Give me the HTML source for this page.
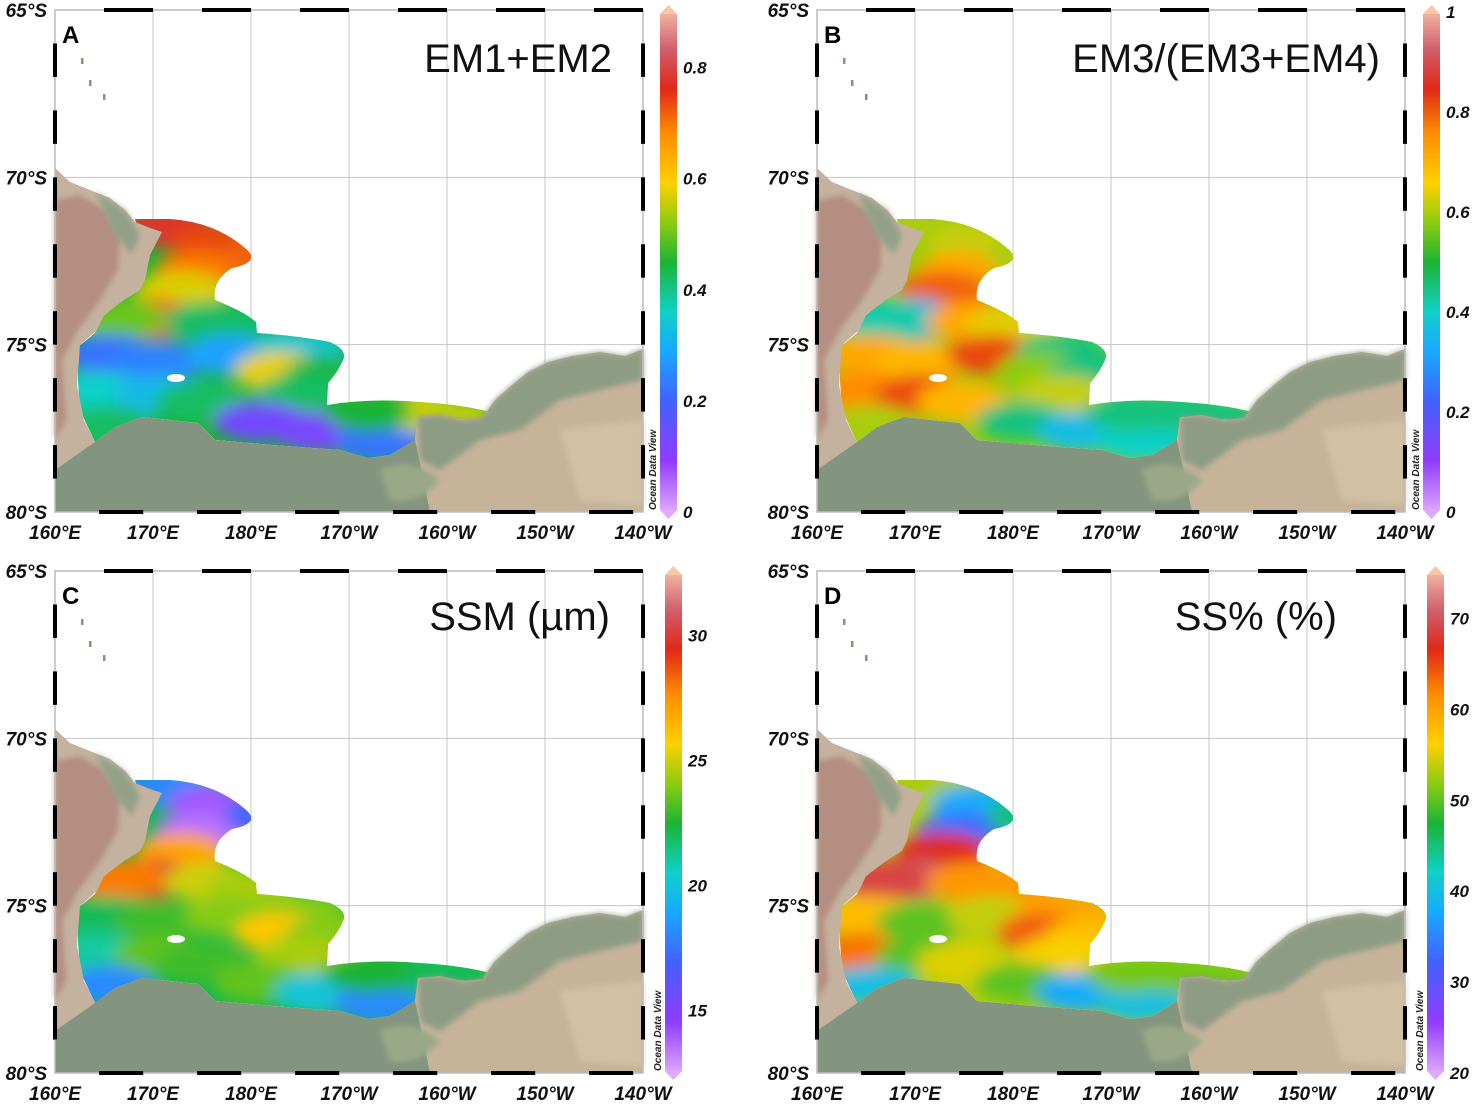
<!DOCTYPE html>
<html><head><meta charset="utf-8"><style>
html,body{margin:0;padding:0;background:#fff;width:1476px;height:1104px;overflow:hidden}
svg{display:block}
text{font-family:"Liberation Sans",Arial,sans-serif}
.ax{font-weight:bold;font-style:italic;font-size:19px;fill:#111}
.tk{font-weight:bold;font-style:italic;font-size:17px;fill:#111}
</style></head><body>
<svg id="fig" width="1476" height="1104" viewBox="0 0 1476 1104" xmlns="http://www.w3.org/2000/svg">
<defs>
<filter id="blur" x="-50%" y="-50%" width="200%" height="200%"><feGaussianBlur stdDeviation="8"/></filter>
<filter id="lblur"><feGaussianBlur stdDeviation="3"/></filter>
</defs>
</svg>
<script>
// ---- data ----
const panelLetters = ['A','B','C','D'];
const panelTitles = ['EM1+EM2','EM3/(EM3+EM4)','SSM (µm)','SS% (%)'];
const latTicks = [65,70,75,80];
const latTickLabels = ['65°S','70°S','75°S','80°S'];
const lonTicks = [160,170,180,190,200,210,220];
const lonTickLabels = ['160°E','170°E','180°E','170°W','160°W','150°W','140°W'];
const sampleLon = [171.7,176.3,174.8,172.8,169.7,166.6,175.8,179.9,165.6,170.7,177.9,185.0,183.0,188.1,164.6,170.7,174.8,185.0,180.9,187.0,193.2,197.2,192.1,165.6,200.5,182.0];
const sampleLat = [71.5,72.0,72.8,73.4,74.2,74.2,74.3,74.5,75.3,75.5,75.3,75.2,75.8,75.9,76.4,76.5,76.7,76.5,77.3,77.6,77.9,77.0,77.0,77.4,77.2,72.3];
const valuesA = [0.78,0.74,0.70,0.57,0.72,0.50,0.42,0.42,0.22,0.24,0.28,0.34,0.58,0.44,0.36,0.32,0.42,0.42,0.13,0.12,0.22,0.58,0.45,0.42,0.55,0.72];
const valuesB = [0.60,0.62,0.72,0.80,0.34,0.42,0.72,0.64,0.72,0.70,0.82,0.45,0.58,0.45,0.76,0.82,0.70,0.62,0.45,0.36,0.40,0.45,0.45,0.60,0.45,0.60];
const valuesC = [18,14,13.5,27,30,28,25,24.5,22,23,24,24,26,24,21,23.5,23,24.5,23.5,20,18,22,22.5,18,22,17];
const valuesD = [53,38,33,67,71,69,61,61,58,50,54,60,64,58,63,50,55,56,50,38,40,51,51,40,51,45];
const seriesValues = [valuesA,valuesB,valuesC,valuesD];
const cbMin = [0,0,12.5,20];
const cbMax = [0.9,1,32.5,75];
const cbTicksA = [0,0.2,0.4,0.6,0.8];
const cbTicksB = [0,0.2,0.4,0.6,0.8,1];
const cbTicksC = [15,20,25,30];
const cbTicksD = [20,30,40,50,60,70];
const cbTicks = [cbTicksA,cbTicksB,cbTicksC,cbTicksD];

// ---- layout ----
const NS='http://www.w3.org/2000/svg';
const svg=document.getElementById('fig');
const offsets=[[0,0],[762,0],[0,561],[762,561]];
const cbX=[660,661,665,665];
const X0=55,X1=643,Y0=10,Y1=512;
const xs=lon=>X0+(lon-160)*(X1-X0)/60;
const ys=lat=>Y0+(lat-65)*(Y1-Y0)/15;
const stops=[[0,'#dca4ff'],[0.1,'#8f3cff'],[0.22,'#4262ff'],[0.32,'#18a8ff'],[0.4,'#10d0c8'],[0.5,'#1cb434'],[0.58,'#8ccc10'],[0.66,'#ffd000'],[0.76,'#ff8c00'],[0.85,'#e02818'],[0.93,'#d0606e'],[1,'#f0b0a0']];
function hex(h){return [1,3,5].map(i=>parseInt(h.substr(i,2),16));}
function cmap(t){t=Math.max(0,Math.min(1,t));for(let i=1;i<stops.length;i++){if(t<=stops[i][0]){const a=stops[i-1],b=stops[i];const f=(t-a[0])/(b[0]-a[0]);const ca=hex(a[1]),cb=hex(b[1]);return 'rgb('+ca.map((c,k)=>Math.round(c+(cb[k]-c)*f)).join(',')+')';}}return stops[stops.length-1][1];}
function el(tag,attrs,parent){const e=document.createElementNS(NS,tag);for(const k in attrs)e.setAttribute(k,attrs[k]);(parent||svg).appendChild(e);return e;}

const oceanPath="M135,219 L170,219 Q215,222 245,248 Q262,262 232,268 Q212,280 215,300 Q245,312 256,322 L257,333 Q300,336 330,342 Q348,350 343,360 Q338,372 328,383 L327,405 Q370,398 420,402 Q470,405 500,415 L470,420 L418,417 L415,440 L390,455 L368,458 L340,450 L272,445 L215,440 L198,423 L142,417 L115,427 L95,442 L80,410 L78,380 L78,347 L95,333 L102,317 L122,300 L138,280 L142,245 Z";
const victoria="M55,168 L70,182 L90,190 L110,198 L125,210 L135,222 L150,228 L162,232 L150,255 L145,280 L140,290 L124,300 L104,315 L97,330 L80,345 L77,385 L84,420 L95,442 L100,470 L70,480 L55,480 Z";
const shelf="M55,470 L95,442 L115,427 L142,417 L198,423 L215,440 L272,445 L340,450 L368,458 L390,455 L415,440 L430,512 L55,512 Z";
const byrd="M415,440 L418,417 L440,415 L462,420 L482,418 L495,400 L512,385 L528,372 L548,362 L572,356 L600,352 L625,356 L643,349 L643,512 L420,512 Z";

offsets.forEach((off,p)=>{
  const g=el('g',{transform:'translate('+off[0]+','+off[1]+')'});
  
  
  const cid='clip'+p;
  const cp=el('clipPath',{id:cid},g);el('path',{d:oceanPath},cp);
  lonTicks.forEach(l=>{const ln=el('line',{x1:xs(l),x2:xs(l),y1:Y0,y2:Y1,stroke:'#c4c4c4','stroke-width':1},g);});
  [70,75].forEach(l=>{const ln=el('line',{x1:X0,x2:X1,y1:ys(l),y2:ys(l),stroke:'#c4c4c4','stroke-width':1},g);});
  const vals=seriesValues[p];
  const norm=v=>(v-cbMin[p])/(cbMax[p]-cbMin[p]);
  const fg=el('g',{'clip-path':'url(#'+cid+')'},g);
  
  
  const mean=vals.reduce((a,b)=>a+b,0)/vals.length;
  el('path',{d:oceanPath,fill:cmap(norm(mean))},fg);
  const bg=el('g',{filter:'url(#blur)'},fg);
  vals.forEach((v,i)=>{
    const e=el('ellipse',{cx:xs(sampleLon[i]),cy:ys(sampleLat[i]),rx:46,ry:20,fill:cmap(norm(v))},bg);
    
    
  });
  el('ellipse',{cx:176,cy:378,rx:9,ry:4,fill:'#fff'},fg);
  const lg=el('g',{},g);
  
  
  el('path',{d:victoria,fill:'#c4b29e'},lg);
  el('path',{d:'M55,200 L80,195 L105,210 L120,235 L118,270 L100,300 L78,330 L62,360 L66,420 L55,440 Z',fill:'#b48e80',filter:'url(#lblur)'},lg);
  el('path',{d:'M95,192 L125,210 L140,235 L132,255 L115,235 Z',fill:'#93a087',filter:'url(#lblur)'},lg);
  el('path',{d:byrd,fill:'#c6b39a'},lg);
  el('path',{d:'M418,417 L440,415 L462,420 L482,418 L495,400 L512,385 L528,372 L548,362 L572,356 L600,352 L625,356 L643,349 L643,380 L600,390 L560,400 L520,430 L480,440 L440,470 L420,460 Z',fill:'#8e9c84',filter:'url(#lblur)'},lg);
  el('path',{d:'M560,430 L643,420 L643,505 L580,500 Z',fill:'#d2c0a4',filter:'url(#lblur)'},lg);
  el('path',{d:shelf,fill:'#84957f'},lg);
  el('path',{d:'M380,470 Q410,455 440,480 Q420,505 390,500 Z',fill:'#9aa887',filter:'url(#lblur)'},lg);
  [[81,58],[89,80],[103,94]].forEach(q=>el('rect',{x:q[0],y:q[1],width:2.5,height:6,fill:'#7f9a78'},lg));
  el('rect',{x:X0,y:Y0,width:X1-X0,height:Y1-Y0,fill:'none',stroke:'#bbb','stroke-width':1.5},g);
  const fr=el('g',{stroke:'#000','stroke-width':4},g);
  
  
  for(let l=165;l<220;l+=10){el('line',{x1:xs(l),x2:xs(l+5),y1:Y0,y2:Y0},fr);el('line',{x1:xs(l-0.5),x2:xs(l+4),y1:Y1,y2:Y1},fr);}
  for(let l=66;l<80;l+=2){el('line',{x1:X0,x2:X0,y1:ys(l),y2:ys(l+1)},fr);el('line',{x1:X1,x2:X1,y1:ys(l),y2:ys(l+1)},fr);}
  latTicks.forEach((l,i)=>{const t=el('text',{x:47,y:ys(l)+7,'text-anchor':'end',class:'ax'},g);t.textContent=latTickLabels[i];});
  lonTicks.forEach((l,i)=>{const t=el('text',{x:xs(l),y:539,'text-anchor':'middle',class:'ax'},g);t.textContent=lonTickLabels[i];});
  const pl=el('text',{x:62,y:43,'font-size':24,'font-weight':'bold',fill:'#000'},g);pl.textContent=panelLetters[p];
  
  const titleX=[612,618,610,575];
  const tt=el('text',{x:titleX[p],y:p<2?72:69,'text-anchor':'end','font-size':40,fill:'#111'},g);tt.textContent=panelTitles[p];
  
  const cx=cbX[p],cw=17,ct=14,cbt=510;
  const gid='cg'+p;const lgd=el('linearGradient',{id:gid,x1:0,y1:1,x2:0,y2:0},g);
  stops.forEach(s=>el('stop',{offset:s[0],'stop-color':s[1]},lgd));
  const cb=el('g',{},g);
  
  
  el('rect',{x:cx,y:ct,width:cw,height:cbt-ct,fill:'url(#'+gid+')'},cb);
  el('path',{d:`M${cx},${ct} L${cx+cw/2},${ct-9} L${cx+cw},${ct} Z`,fill:'#f8c8a4'},cb);
  el('path',{d:`M${cx},${cbt} L${cx+cw/2},${cbt+9} L${cx+cw},${cbt} Z`,fill:'#dcaaff'},cb);
  const cy=v=>Y1-(v-cbMin[p])/(cbMax[p]-cbMin[p])*(Y1-12);
  cbTicks[p].forEach(v=>{const t=el('text',{x:cx+cw+6,y:cy(v)+6,class:'tk'},cb);t.textContent=String(v);});
  const od=el('text',{x:0,y:0,transform:`translate(${cx-4},${cbt}) rotate(-90)`,'font-size':10,'font-weight':'bold','font-style':'italic',fill:'#222'},g);
  od.textContent='Ocean Data View';
});
</script>
</body></html>
